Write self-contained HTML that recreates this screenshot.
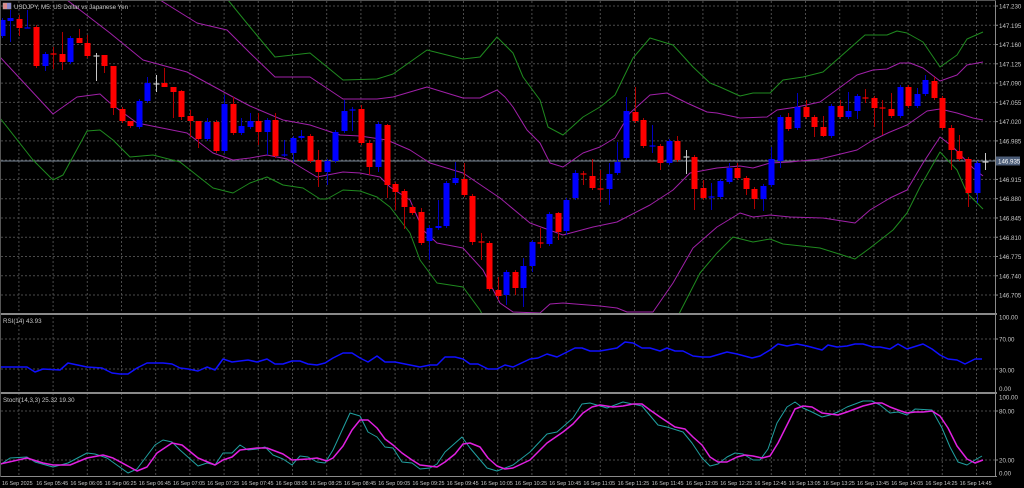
<!DOCTYPE html>
<html><head><meta charset="utf-8"><style>
html,body{margin:0;padding:0;background:#000;width:1024px;height:488px;overflow:hidden}
svg{display:block}
text{font-family:"Liberation Sans",sans-serif;font-size:6.2px;fill:#c8c8c8}
.t text{font-size:5.4px}
</style></head><body>
<svg id="s" width="1024" height="488" viewBox="0 0 1024 488" xmlns="http://www.w3.org/2000/svg">
<rect width="1024" height="488" fill="#000"/>
<g id="grid" stroke="#4a4a4a" stroke-width="1" stroke-dasharray="2,2"></g>
<line x1="0" y1="161" x2="995" y2="161" stroke="#7a8898" stroke-width="1"/>
<defs><clipPath id="cm"><rect x="0" y="0" width="995" height="313"/></clipPath></defs>
<g id="bands" clip-path="url(#cm)" fill="none" stroke-width="1"></g>
<g id="candles" clip-path="url(#cm)"></g>
<g id="ind" fill="none"></g>
<rect x="0" y="313" width="997" height="2" fill="#8a8a8a"/>
<rect x="0" y="392" width="997" height="2" fill="#8a8a8a"/>
<line x1="0" y1="476.5" x2="997" y2="476.5" stroke="#8a8a8a"/>
<line x1="995.5" y1="0" x2="995.5" y2="477" stroke="#8a8a8a"/>
<line x1="0.5" y1="0" x2="0.5" y2="477" stroke="#555"/>
<line x1="0" y1="0.5" x2="996" y2="0.5" stroke="#555"/>
<g id="ticks" stroke="#8a8a8a"></g>
<rect x="3" y="3" width="8" height="6" fill="#d88" stroke="#aaa" stroke-width="0.5"/>
<rect x="7" y="3" width="4" height="6" fill="#88c"/>
<text x="14" y="9">USDJPY, M5:  US Dollar vs Japanese Yen</text>
<text x="3" y="323">RSI(14) 43.93</text>
<text x="3" y="402">Stoch(14,3,3) 25.32 19.30</text>
<g>
<text x="999" y="8.5">147.230</text><text x="999" y="27.8">147.195</text><text x="999" y="47">147.160</text><text x="999" y="66.3">147.125</text>
<text x="999" y="85.6">147.090</text><text x="999" y="104.9">147.055</text><text x="999" y="124.1">147.020</text><text x="999" y="143.4">146.985</text>
<text x="999" y="182">146.915</text><text x="999" y="201.2">146.880</text><text x="999" y="220.5">146.845</text>
<text x="999" y="239.8">146.810</text><text x="999" y="259">146.775</text><text x="999" y="278.3">146.740</text><text x="999" y="297.6">146.705</text>
</g>
<rect x="996" y="156.5" width="24" height="9" fill="#4c5d78"/>
<text x="998" y="163.3" style="fill:#fff">146.935</text>
<text x="999" y="319.5">100.00</text><text x="999" y="341.5">70.00</text><text x="999" y="372.5">30.00</text><text x="999" y="391">0.00</text>
<text x="999" y="399.5">100.00</text><text x="999" y="413.5">80.00</text><text x="999" y="462.5">20.00</text><text x="999" y="475.5">0.00</text>
<g class="t">
<text x="2" y="485">16 Sep 2025</text><text x="36.2" y="485">16 Sep 05:45</text><text x="70.4" y="485">16 Sep 06:05</text><text x="104.6" y="485">16 Sep 06:25</text>
<text x="138.8" y="485">16 Sep 06:45</text><text x="173" y="485">16 Sep 07:05</text><text x="207.2" y="485">16 Sep 07:25</text><text x="241.4" y="485">16 Sep 07:45</text>
<text x="275.6" y="485">16 Sep 08:05</text><text x="309.8" y="485">16 Sep 08:25</text><text x="344" y="485">16 Sep 08:45</text><text x="378.2" y="485">16 Sep 09:05</text>
<text x="412.4" y="485">16 Sep 09:25</text><text x="446.6" y="485">16 Sep 09:45</text><text x="480.8" y="485">16 Sep 10:05</text><text x="515" y="485">16 Sep 10:25</text>
<text x="549.2" y="485">16 Sep 10:45</text><text x="583.4" y="485">16 Sep 11:05</text><text x="617.6" y="485">16 Sep 11:25</text><text x="651.8" y="485">16 Sep 11:45</text>
<text x="686" y="485">16 Sep 12:05</text><text x="720.2" y="485">16 Sep 12:25</text><text x="754.4" y="485">16 Sep 12:45</text><text x="788.6" y="485">16 Sep 13:05</text>
<text x="822.8" y="485">16 Sep 13:25</text><text x="857" y="485">16 Sep 13:45</text><text x="891.2" y="485">16 Sep 14:05</text><text x="925.4" y="485">16 Sep 14:25</text>
<text x="959.6" y="485">16 Sep 14:45</text>
</g>
</svg>
<script>
var NS="http://www.w3.org/2000/svg";
function el(p,t,a){var e=document.createElementNS(NS,t);for(var k in a)e.setAttribute(k,a[k]);document.getElementById(p).appendChild(e);return e;}
for(var k=0;k<30;k++){var x=18.9+34.2*k;if(x>994)break;el("grid","line",{x1:x,y1:1,x2:x,y2:476});}
for(var k=0;k<16;k++){var y=6+19.27*k;el("grid","line",{x1:1,y1:y,x2:995,y2:y});el("ticks","line",{x1:995,y1:y,x2:998,y2:y});}
[339,369,411,460].forEach(function(y){el("grid","line",{x1:1,y1:y,x2:995,y2:y});el("ticks","line",{x1:995,y1:y,x2:998,y2:y});});
function pl(p,pts,c,w){el(p,"polyline",{points:pts.map(function(q){return q[0]+","+q[1]}).join(" "),stroke:c,"stroke-width":w||1,fill:"none","stroke-linejoin":"round"});}
var G="#1f8a1f",M="#a020a8";
pl("bands",[[228,0],[250,27],[275,57],[310,53],[343,80],[377,79],[393,74],[427,50],[463,59],[480,57],[497,37],[500,40],[513,53],[523,77],[540,100],[548,127],[563,135],[583,117],[600,107],[615,95],[633,58],[650,38],[673,45],[693,67],[710,83],[720,87],[740,96],[753,93],[770,93],[783,80],[803,77],[823,72],[857,42],[865,35],[887,35],[897,31],[907,33],[923,42],[940,67],[957,55],[967,39],[983,32]],G);
pl("bands",[[160,0],[197,23],[227,30],[250,53],[275,77],[310,77],[343,99],[377,99],[393,97],[427,87],[463,98],[480,98],[497,90],[505,97],[513,107],[527,130],[540,143],[550,163],[563,167],[583,153],[600,147],[615,138],[630,113],[650,95],[667,93],[687,103],[707,112],[717,113],[740,118],[767,117],[777,110],[797,107],[820,102],[857,75],[873,70],[887,69],[900,63],[910,63],[923,68],[940,81],[957,75],[967,65],[983,62]],M);
pl("bands",[[67,0],[110,33],[143,60],[187,72],[233,97],[250,106],[283,120],[310,125],[340,135],[360,136],[387,140],[410,150],[430,163],[463,173],[500,198],[530,223],[563,235],[593,227],[617,222],[650,205],[673,190],[690,173],[717,168],[740,166],[753,168],[770,163],[790,162],[820,159],[857,150],[873,140],[890,132],[907,125],[927,111],[940,109],[957,113],[973,118],[983,120]],M);
pl("bands",[[0,57],[53,114],[77,97],[100,94],[110,103],[137,123],[157,127],[187,133],[213,153],[233,160],[250,158],[267,155],[287,159],[317,177],[343,172],[360,173],[380,177],[390,187],[410,200],[423,230],[437,243],[463,248],[483,270],[500,303],[513,312],[540,313],[550,304],[563,303],[600,306],[617,308],[627,312],[653,312],[673,283],[693,248],[717,227],[740,213],[753,217],[770,215],[790,217],[823,218],[855,223],[870,210],[890,198],[907,190],[923,163],[940,137],[953,147],[973,168],[983,176]],M);
pl("bands",[[0,118],[33,160],[53,180],[63,175],[87,131],[100,130],[113,140],[130,157],[153,155],[180,162],[213,188],[233,193],[250,183],[267,177],[283,185],[303,188],[320,199],[327,199],[343,190],[360,191],[377,197],[390,207],[410,233],[420,260],[437,283],[463,287],[480,310],[490,330],[670,330],[680,312],[700,273],[717,253],[733,237],[753,242],[770,239],[783,244],[820,248],[855,259],[870,248],[893,230],[907,213],[920,187],[940,152],[957,170],[967,193],[983,209]],G);
var D=[["b",20,36],["b",18,21,10,42],["r",19,28,15,36],["b",28,28.5,10,28],["r",27,66],["b",54,66,52,71],["r",54,54.5,47,69],["r",54,62,32,70],["b",38,62],["r",38,43,29,43],
["r",43,56,35,58],["w",56,56.5,53,81],["r",55,66,55,73],["r",66,108,66,115],["r",109,121],["r",121,126,121,128],["b",101,127],["b",83,101,77,103],["w",84,84.5,75,92],["r",83,87,68,87],
["r",87,92,87,118],["r",91,117,90,120],["r",116,121,110,137],["r",121,139,121,148],["b",122,139,118,141],["r",122,151,120,153],["b",104,151,95,153],["r",104,133,97,135],["b",126,133,118,135],["b",121,127,113,129],
["r",121,132,113,145],["b",120,132,118,155],["r",120,156,113,158],["b",155,155.5,140,157],["b",138,153,136,162],["b",136,138,130,140],["r",136,161,134,163],["r",160,172,150,187],["b",161,172,159,185],["b",132,161,130,163],
["b",111,131,100,133],["b",110,110.5,107,131],["r",109,143,105,145],["r",143,167,140,175],["b",124,167,122,172],["r",125,185,124,198],["r",184,192,182,210],["r",191,207,189,229],["r",207,213,205,215],["r",212,243,208,245],
["b",228,241,225,260],["b",226,228,200,230],["b",183,226,181,228],["b",178,183,162,185],["r",179,195,163,197],["r",196,242,194,245],["r",242,242.5,233,260],["r",243,289,241,291],["r",290,296,277,300],["b",272,295,270,305],
["r",272,288,270,295],["b",266,288,258,307],["b",242,266,240,272],["r",243,243.5,228,248],["b",214,244,212,246],["r",213,232,212,240],["b",200,231,198,235],["b",173,198,170,200],["r",174,174.5,171,185],["r",176,188,159,190],
["r",189,189.5,170,202],["b",174,189,163,205],["b",162,173,142,175],["b",111,158,97,160],["r",112,121,87,123],["r",120,146,118,148],["b",146,146.5,125,153],["r",146,163,144,170],["b",141,163,139,165],["r",141,160,136,162],
["w",157,157.5,150,174],["r",157,189,155,210],["r",188,198,180,200],["b",197,197.5,183,210],["b",181,197,179,199],["b",168,182,163,184],["r",168,178,163,180],["r",178,189,176,195],["r",189,199,187,209],["b",186,199,184,211],
["b",159,185,147,187],["b",117,161,115,168],["r",117,129,113,131],["b",107,128,93,130],["r",107,117,100,119],["r",117,127,115,137],["r",127,136,116,137],["b",106,136,104,138],["r",106,117,100,119],["b",111,117,92,119],
["b",96,111,94,119],["r",98,98.5,89,103],["r",98,108,96,127],["r",108,108.5,100,135],["r",109,116,93,118],["b",87,116,85,118],["r",87,106,85,108],["b",94,106,88,108],["b",80,94,75,96],["r",81,98,77,100],
["r",98,128,96,130],["r",128,150,125,170],["r",151,159,135,161],["r",159,193,157,207],["b",163,193,161,203],["w",162,162.5,153,170]];
var C={r:"#ff0000",b:"#0000ff",w:"#c8c8c8"},WC={r:"#b00000",b:"#0000c0",w:"#c8c8c8"};
D.forEach(function(d,i){var x=Math.round(1.8+8.55*i)+0.5;var t=d[1],b=d[2];var wt=d.length>3?d[3]:t-2,wb=d.length>3?d[4]:b+2;
el("candles","line",{x1:x,y1:wt,x2:x,y2:wb,stroke:WC[d[0]],"stroke-width":1});
if(b-t<1.5){el("candles","line",{x1:x-3,y1:t,x2:x+3,y2:t,stroke:C[d[0]],"stroke-width":1.2});}
else el("candles","rect",{x:x-3,y:t,width:6,height:b-t,fill:C[d[0]]});});
pl("ind",[[0,367],[27,367],[35,372],[43,369],[60,370],[68,363],[87,367],[102,368],[112,373],[120,374],[128,374],[137,368],[147,363],[163,363],[172,364],[180,368],[188,369],[198,371],[207,367],[215,370],[223,359],[232,362],[248,360],[257,362],[267,359],[275,364],[283,364],[292,361],[300,361],[308,364],[317,365],[325,363],[333,358],[343,353],[352,353],[360,358],[368,362],[377,356],[385,362],[395,362],[420,367],[430,365],[437,365],[445,357],[455,357],[463,359],[470,364],[478,364],[488,369],[497,369],[505,365],[513,367],[530,359],[538,358],[547,354],[557,357],[567,352],[575,348],[582,348],[590,351],[600,351],[617,348],[625,342],[633,343],[642,348],[650,348],[660,351],[667,348],[675,351],[683,351],[693,356],[702,357],[710,357],[727,352],[737,354],[752,358],[760,356],[770,350],[778,344],[787,346],[797,344],[807,346],[822,350],[828,345],[837,347],[847,346],[855,344],[863,344],[873,347],[880,347],[890,349],[898,344],[907,349],[923,344],[932,349],[940,355],[948,359],[957,360],[965,364],[975,359],[982,359]],"#1010ff",1.5);
pl("ind",[[0,465],[10,458],[27,457],[35,462],[53,467],[68,463],[87,453],[95,454],[107,458],[128,473],[137,469],[155,445],[163,440],[172,442],[180,450],[198,466],[207,463],[215,465],[223,453],[232,453],[240,445],[248,450],[257,449],[265,447],[273,455],[283,459],[292,465],[300,456],[308,457],[317,462],[325,463],[333,450],[350,413],[360,416],[368,432],[377,437],[385,447],[393,448],[402,462],[412,463],[420,469],[430,468],[437,464],[445,452],[462,437],[470,448],[487,468],[497,471],[513,465],[530,452],[547,434],[557,432],[573,418],[582,404],[590,403],[607,408],[623,402],[642,406],[658,425],[667,427],[683,432],[692,443],[702,458],[710,466],[718,464],[727,457],[735,453],[743,454],[753,460],[760,460],[768,449],[777,423],[787,407],[795,402],[803,408],[812,412],[822,417],[830,415],[838,412],[847,407],[863,401],[872,401],[880,405],[890,413],[898,412],[907,415],[915,409],[932,410],[942,428],[950,447],[958,462],[967,465],[975,460],[982,456]],"#20a0a0",1);
pl("ind",[[0,464],[27,458],[43,463],[53,465],[70,465],[87,458],[103,455],[113,458],[137,471],[147,467],[157,453],[172,443],[182,445],[198,458],[215,465],[223,460],[232,457],[240,450],[257,448],[267,448],[283,454],[292,460],[308,459],[317,458],[327,461],[333,458],[343,446],[352,430],[360,420],[368,420],[377,428],[385,439],[393,445],[402,453],[412,460],[420,465],[437,467],[445,462],[455,454],[463,444],[470,443],[480,447],[488,458],[497,466],[505,469],[513,468],[530,460],[547,443],[563,432],[573,424],[583,413],[592,407],[600,405],[613,407],[623,406],[633,404],[642,404],[650,410],[660,417],[675,427],[685,429],[693,437],[702,445],[710,457],[718,462],[727,462],[737,457],[745,455],[753,456],[762,458],[770,456],[778,443],[787,425],[795,409],[803,406],[812,407],[822,413],[830,414],[838,415],[847,412],[863,406],[875,403],[882,403],[890,407],[898,410],[907,413],[915,412],[923,412],[932,411],[940,416],[948,428],[957,446],[967,459],[975,463],[983,460]],"#e020e0",1.5);
</script>
</body></html>
